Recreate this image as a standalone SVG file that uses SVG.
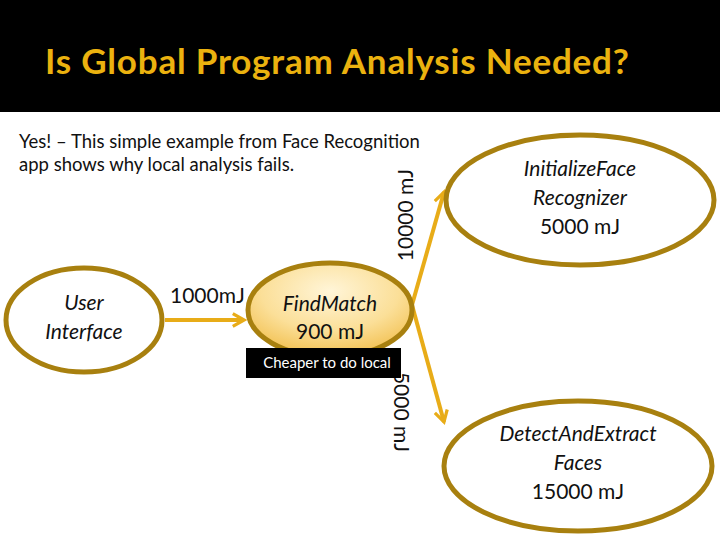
<svg xmlns="http://www.w3.org/2000/svg" width="720" height="540" viewBox="0 0 720 540">
<style>
.node{fill:#fff;stroke:#A8800F;stroke-width:5}
.lbl{font-family:Lato,"Open Sans",sans-serif;font-size:21px;font-style:italic;fill:#111;text-anchor:middle}
.num{font-family:Lato,"Open Sans",sans-serif;font-size:21px;fill:#111;text-anchor:middle}
.edge{stroke:#E8AC18;stroke-width:4;fill:none;marker-end:url(#ah)}
.el{font-family:Lato,"Open Sans",sans-serif;font-size:21px;fill:#111}
</style>
<defs>
<marker id="ah" viewBox="0 0 10 10" refX="8" refY="5" markerWidth="4" markerHeight="4" orient="auto" markerUnits="strokeWidth">
<path d="M1,1 L8,5 L1,9" fill="none" stroke="#E8AC18" stroke-width="2"/>
</marker>
<radialGradient id="fg" cx="0.5" cy="0.3" r="0.7">
<stop offset="0" stop-color="#FFF5D8"/><stop offset="0.6" stop-color="#FBDF98"/><stop offset="1" stop-color="#F2C050"/>
</radialGradient>
</defs>
<rect width="720" height="540" fill="#fff"/>
<rect width="720" height="112" fill="#000"/>
<text x="45" y="74" font-family="Lato,'Open Sans',sans-serif" font-size="35" font-weight="bold" letter-spacing="0.8" fill="#EBB20F">Is Global Program Analysis Needed?</text>
<text font-family="Lato,'Open Sans',sans-serif" font-size="18.5" fill="#111"><tspan x="19" y="148">Yes! – This simple example from Face Recognition</tspan><tspan x="19" y="171">app shows why local analysis fails.</tspan></text>
<g id="connectors">
<line class="edge" x1="165" y1="320" x2="244" y2="320"/>
<line class="edge" x1="412" y1="305" x2="444" y2="192"/>
<line class="edge" x1="412" y1="305" x2="444" y2="422"/>
<text class="el" x="170" y="303">1000mJ</text>
<text class="el" transform="translate(413,215) rotate(-90)" text-anchor="middle">10000 mJ</text>
<text class="el" transform="translate(394,412) rotate(90)" text-anchor="middle">5000 mJ</text>
</g>
<g id="user-interface"><ellipse class="node" cx="84" cy="320" rx="78" ry="52"/>
<text class="lbl" x="84" y="310">User</text><text class="lbl" x="84" y="339">Interface</text></g>
<g id="findmatch"><ellipse cx="330" cy="310" rx="82" ry="47" fill="url(#fg)" stroke="#A8800F" stroke-width="5"/>
<text class="lbl" x="330" y="311">FindMatch</text><text class="num" x="330" y="339">900 mJ</text></g>
<g id="cheaper"><rect x="246" y="348" width="155" height="30" fill="#000"/>
<text x="327" y="368" font-family="Lato,'Open Sans',sans-serif" font-size="15" fill="#fff" text-anchor="middle">Cheaper to do local</text></g>
<g id="initialize"><ellipse class="node" cx="580" cy="200" rx="134" ry="65"/>
<text class="lbl" x="580" y="176">InitializeFace</text><text class="lbl" x="580" y="205">Recognizer</text><text class="num" x="580" y="234">5000 mJ</text></g>
<g id="detect"><ellipse class="node" cx="578" cy="466" rx="134" ry="65"/>
<text class="lbl" x="578" y="441">DetectAndExtract</text><text class="lbl" x="578" y="470">Faces</text><text class="num" x="578" y="499">15000 mJ</text></g>
</svg>
